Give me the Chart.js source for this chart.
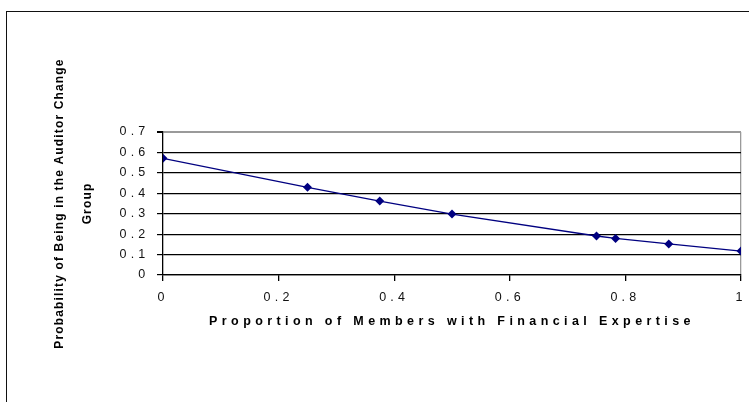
<!DOCTYPE html>
<html>
<head>
<meta charset="utf-8">
<script src="https://cdn.jsdelivr.net/npm/chart.js@4/dist/chart.umd.min.js"></script>
<style>
  html, body { margin: 0; padding: 0; background: #fff; overflow: hidden; }
  #frame {
    position: absolute; left: 6px; top: 11px; width: 800px; height: 500px;
    border-left: 1.5px solid #111; border-top: 1.5px solid #111;
  }
  #chart { position: absolute; left: 0; top: 0; }
</style>
</head>
<body>
<div id="frame"></div>
<canvas id="chart" width="749" height="402"></canvas>
<script>
// Share of board members with financial expertise (x) and the fitted
// probability of belonging to the auditor-change group (y).
const proportion = [0, 0.25, 0.375, 0.5, 0.75, 0.783, 0.875, 1];
const probability = [0.571, 0.429, 0.362, 0.298, 0.191, 0.179, 0.152, 0.117];

const xTickLabels = ['0', '0.2', '0.4', '0.6', '0.8', '1'];
const yTickLabels = ['0', '0.1', '0.2', '0.3', '0.4', '0.5', '0.6', '0.7'];

const xTitle = 'Proportion of Members with Financial Expertise';
const yTitle = ['Probability of Being in the Auditor Change', 'Group'];

const FONT = "'Liberation Sans', Arial, Helvetica, sans-serif";

// Per-scale letter spacing for tick labels and titles.
const spacing = {
  x: { labels: '4.2px', title: '4.4px' },
  y: { labels: '4.2px', title: '1.15px' }
};

const letterSpacingPlugin = {
  id: 'letterSpacing',
  afterLayout(chart) {
    for (const id of Object.keys(spacing)) {
      const scale = chart.scales[id];
      if (!scale || scale._spacingWrapped) continue;
      scale._spacingWrapped = true;
      const wrap = (name, value) => {
        const orig = scale[name];
        scale[name] = function (...args) {
          const ctx = this.ctx;
          const prev = ctx.letterSpacing;
          ctx.letterSpacing = value;
          orig.apply(this, args);
          ctx.letterSpacing = prev;
        };
      };
      wrap('drawLabels', spacing[id].labels);
      wrap('drawTitle', spacing[id].title);
    }
  }
};

new Chart(document.getElementById('chart'), {
  type: 'scatter',
  data: {
    datasets: [{
      data: proportion.map((x, i) => ({ x, y: probability[i] })),
      showLine: true,
      borderColor: '#000080',
      backgroundColor: '#000080',
      borderWidth: 1.3,
      tension: 0,
      pointStyle: 'rectRot',
      pointRadius: 4.5,
      pointBorderWidth: 0,
      pointBackgroundColor: '#000080'
    }]
  },
  options: {
    responsive: false,
    devicePixelRatio: 1,
    animation: false,
    layout: { padding: { left: 0, top: 132, right: 8, bottom: 0 } },
    plugins: { legend: { display: false }, tooltip: { enabled: false } },
    scales: {
      x: {
        type: 'linear',
        min: 0, max: 1,
        afterFit(s) { s.height = 127; s.paddingLeft = 0; s.paddingRight = 0; },
        ticks: {
          stepSize: 0.2,
          autoSkip: false,
          maxRotation: 0,
          padding: 9,
          color: '#111',
          font: { family: FONT, size: 12.5 },
          callback: (v, i) => xTickLabels[i]
        },
        grid: {
          drawOnChartArea: true,
          color: c => (c.index === xTickLabels.length - 1 ? '#9a9a9a' : 'rgba(0,0,0,0)'),
          tickColor: '#000',
          tickLength: 6,
          lineWidth: 1.3
        },
        border: { display: true, color: '#000', width: 1.3 },
        title: {
          display: true,
          text: xTitle,
          color: '#000',
          font: { family: FONT, size: 12.5, weight: 'bold' },
          padding: { top: 4, bottom: 73 }
        }
      },
      y: {
        type: 'linear',
        min: 0, max: 0.7,
        afterFit(s) { s.width = 163; s.paddingTop = 0; s.paddingBottom = 0; },
        ticks: {
          stepSize: 0.1,
          autoSkip: false,
          padding: 7.5,
          color: '#111',
          font: { family: FONT, size: 12.5 },
          callback: (v, i) => yTickLabels[i]
        },
        grid: {
          color: c => (c.index === yTickLabels.length - 1 ? '#9a9a9a' : '#000'),
          tickColor: '#000',
          tickLength: 6,
          lineWidth: c => (c.index === yTickLabels.length - 1 ? 2 : 1.2)
        },
        border: { display: true, color: '#000', width: 1.3 },
        title: {
          display: true,
          text: yTitle,
          color: '#000',
          font: { family: FONT, size: 12, weight: 'bold', lineHeight: 2.3 },
          padding: { top: 46, bottom: 0 }
        }
      }
    }
  },
  plugins: [letterSpacingPlugin]
});
</script>
</body>
</html>
